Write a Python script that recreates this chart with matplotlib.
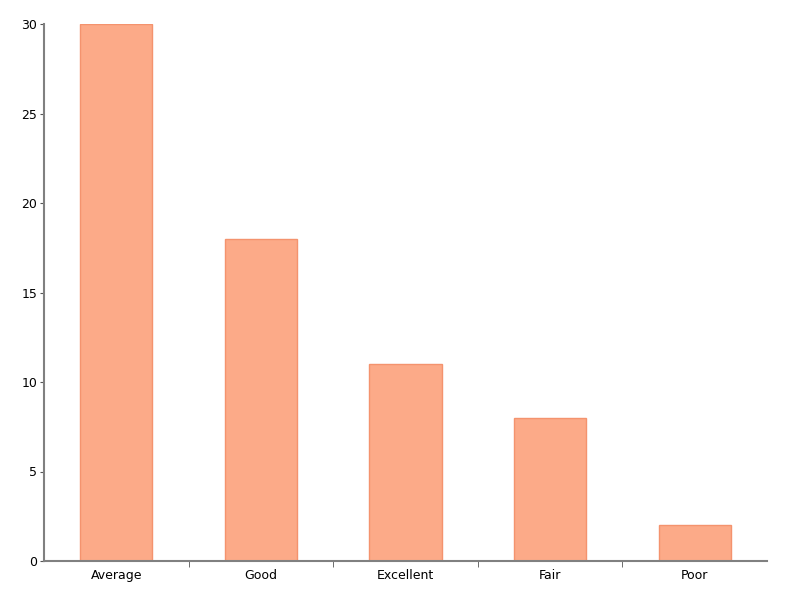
import matplotlib.pyplot as plt
import numpy as np

categories = ['Average', 'Good', 'Excellent', 'Fair', 'Poor']
counts = [30, 18, 11, 8, 2]

fig = plt.figure(figsize=(8, 6), dpi=100)
ax = fig.add_axes([0.055, 0.065, 0.90375, 0.895])

x = np.arange(len(categories))
ax.bar(x, counts, width=0.5, color='#fcaa88', edgecolor='#f4936e', linewidth=1)

ax.set_xlim(-0.5, len(categories) - 0.5)
ax.set_ylim(0, 30)
ax.set_xticks(x)
ax.set_xticklabels(categories)
ax.set_xticks(x[:-1] + 0.5, minor=True)
ax.set_yticks(np.arange(0, 31, 5))

ax.tick_params(axis='x', which='major', length=0, labelsize=9, pad=6)
ax.tick_params(axis='x', which='minor', length=4, color='#555555')
ax.tick_params(axis='y', length=3, labelsize=9, pad=2, color='#555555')

for side in ['top', 'right']:
    ax.spines[side].set_visible(False)
for side in ['left', 'bottom']:
    ax.spines[side].set_color('#808080')
    ax.spines[side].set_linewidth(1.5)

fig.savefig('out.png')
